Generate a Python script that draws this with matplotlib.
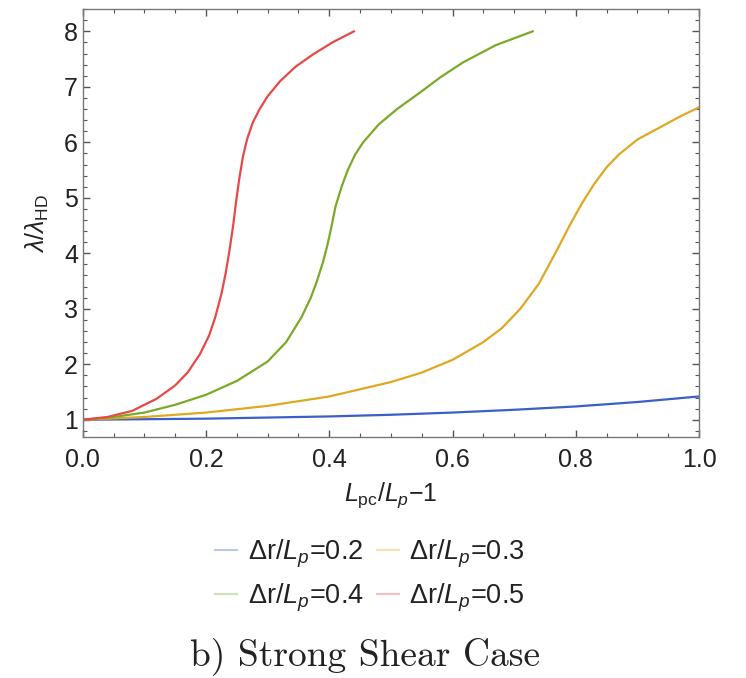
import matplotlib
matplotlib.use("Agg")
import matplotlib.pyplot as plt
from matplotlib.ticker import MultipleLocator
from matplotlib.lines import Line2D

plt.rcParams['font.family'] = ['Liberation Sans', 'DejaVu Sans']
plt.rcParams['mathtext.fontset'] = 'custom'
plt.rcParams['mathtext.rm'] = 'Liberation Sans'
plt.rcParams['mathtext.it'] = 'Liberation Sans:italic'

# data
x_r02 = [0.0, 0.1, 0.2, 0.3, 0.4, 0.5, 0.6, 0.7, 0.8, 0.9, 1.0]
y_r02 = [1.0, 1.01, 1.02, 1.04, 1.06, 1.09, 1.13, 1.18, 1.24, 1.32, 1.42]

x_r03 = [0.0, 0.1, 0.2, 0.3, 0.4, 0.5, 0.55, 0.6, 0.65, 0.68, 0.71, 0.74, 0.77,
         0.79, 0.81, 0.83, 0.85, 0.87, 0.9, 0.94, 0.97, 1.0]
y_r03 = [1.0, 1.05, 1.13, 1.25, 1.42, 1.68, 1.85, 2.08, 2.4, 2.65, 3.0, 3.45, 4.07,
         4.5, 4.9, 5.25, 5.55, 5.78, 6.05, 6.29, 6.47, 6.63]

x_r04 = [0.0, 0.05, 0.1, 0.15, 0.2, 0.25, 0.3, 0.33, 0.355, 0.37, 0.38, 0.39, 0.397,
         0.403, 0.41, 0.42, 0.43, 0.442, 0.455, 0.48, 0.51, 0.55, 0.58, 0.617, 0.67, 0.73]
y_r04 = [1.0, 1.05, 1.13, 1.27, 1.45, 1.7, 2.05, 2.4, 2.85, 3.2, 3.5, 3.85, 4.15,
         4.45, 4.84, 5.2, 5.5, 5.78, 6.0, 6.32, 6.6, 6.92, 7.17, 7.44, 7.75, 8.0]

x_r05 = [0.0, 0.04, 0.08, 0.12, 0.15, 0.17, 0.19, 0.205, 0.215, 0.225, 0.232, 0.238,
         0.244, 0.249, 0.254, 0.26, 0.267, 0.276, 0.287, 0.3, 0.32, 0.345, 0.373, 0.405, 0.44]
y_r05 = [1.0, 1.05, 1.16, 1.38, 1.62, 1.85, 2.18, 2.52, 2.85, 3.27, 3.65, 4.05,
         4.5, 4.95, 5.35, 5.75, 6.07, 6.36, 6.6, 6.83, 7.1, 7.36, 7.58, 7.8, 8.0]

labels = [r"Δr/$L_p$=0.2", r"Δr/$L_p$=0.3", r"Δr/$L_p$=0.4", r"Δr/$L_p$=0.5"]
colors = ["#3a5fc8", "#e0a820", "#7aaa28", "#e84848"]

fig = plt.figure(figsize=(7.46, 6.78), dpi=100)
ax = fig.add_axes([0.111, 0.3555, 0.826, 0.631])

series = [(x_r02, y_r02), (x_r03, y_r03), (x_r04, y_r04), (x_r05, y_r05)]
for (xs, ys), c in zip(series, colors):
    ax.plot(xs, ys, color=c, lw=1.6, solid_joinstyle='round')

ax.set_xlim(0, 1.0)
ax.set_ylim(0.69, 8.4)
ax.xaxis.set_major_locator(MultipleLocator(0.2))
ax.xaxis.set_minor_locator(MultipleLocator(0.05))
ax.yaxis.set_major_locator(MultipleLocator(1))
ax.yaxis.set_minor_locator(MultipleLocator(0.2))
ax.xaxis.set_major_formatter(matplotlib.ticker.FormatStrFormatter('%.1f'))
for s in ax.spines.values():
    s.set_color('#777777')
    s.set_linewidth(1.0)
ax.tick_params(which='both', direction='in', top=True, right=True, colors='#555555',
               labelcolor='#222222', labelsize=18)
ax.tick_params(which='major', length=5, width=1)
ax.tick_params(which='minor', length=3, width=0.8)
ax.tick_params(axis='x', which='major', pad=8)

ax.set_xlabel(r"$L_{\rm pc}/L_p$−1", fontsize=18, color='#222222', labelpad=6)
ax.set_ylabel(r"$\lambda/\lambda_{\rm HD}$", fontsize=18, color='#222222', labelpad=9)

handles = [Line2D([0], [0], color=c, lw=1.5, alpha=0.35) for c in colors]
order = [0, 2, 1, 3]
fig.legend([handles[i] for i in order], [labels[i] for i in order], ncol=2,
           loc='upper center', bbox_to_anchor=(0.496, 0.243),
           frameon=False, fontsize=19.5, handlelength=0.8, handletextpad=0.4,
           columnspacing=0.5, labelspacing=0.45, labelcolor='#222222')

fig.text(0.49, 0.033, "b) Strong Shear Case", ha='center', va='center',
         fontsize=27, family='cmr10', color='#222222')

fig.savefig("out.png", dpi=100)
